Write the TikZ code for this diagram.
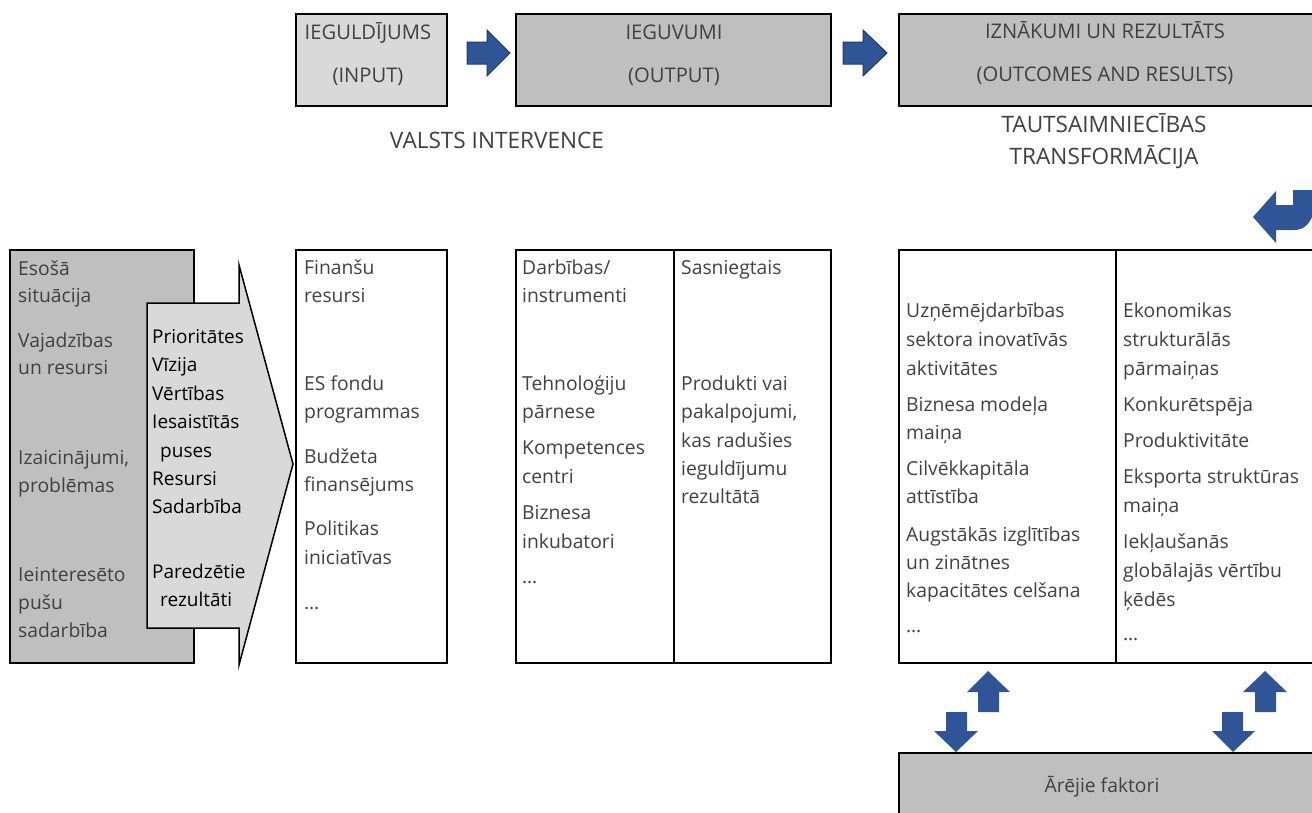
\documentclass[tikz,border=0pt]{standalone}
\usepackage{fontspec}
\setmainfont{Open Sans}
\definecolor{lgrey}{HTML}{D9D9D9}
\definecolor{mgrey}{HTML}{BFBFBF}
\definecolor{tgrey}{HTML}{404040}
\definecolor{ablue}{HTML}{2F5597}
\definecolor{dblue}{HTML}{203864}
\newcommand\fs{\fontsize{19.3}{29}\selectfont}
\newcommand\fsb{\fontsize{19}{29}\selectfont}
\newcommand\fst{\fontsize{20.2}{29}\selectfont}
\newcommand\fsh{\fontsize{22.6}{29}\selectfont}
\tikzset{
  box/.style={draw=black, line width=2pt, inner sep=0pt, outer sep=0pt},
  tl/.style={anchor=base west, inner sep=0pt, text=tgrey, font=\fs},
  tb/.style={anchor=base west, inner sep=0pt, text=black, font=\fsb},
  tc/.style={anchor=base, inner sep=0pt, text=tgrey, font=\fst},
  th/.style={anchor=base, inner sep=0pt, text=tgrey, font=\fsh},
  blockarrow/.style={fill=ablue, draw=dblue, line width=1pt},
}
\begin{document}
\begin{tikzpicture}[x=1pt,y=-1pt]
\useasboundingbox (0,0) rectangle (1312,812);
\begin{scope}
\clip (0,0) rectangle (1312,812);
% top boxes
\node[box, fill=lgrey, minimum width=151pt, minimum height=92pt] (inp) at (371.5,60) {};
\node[box, fill=mgrey, minimum width=315pt, minimum height=92pt] (outp) at (673.5,60) {};
\node[box, fill=mgrey, minimum width=421pt, minimum height=92pt] (outc) at (1109.5,60) {};
\node[tc] (inp1) at (368,39) {IEGULDĪJUMS};
\node[tc] (inp2) at (368,82) {(INPUT)};
\node[tc] (outp1) at (674,39) {IEGUVUMI};
\node[tc] (outp2) at (674,82) {(OUTPUT)};
\node[tc] (outc1) at (1105,38) {IZNĀKUMI UN REZULTĀTS};
\node[tc] (outc2) at (1105,81) {(OUTCOMES AND RESULTS)};
% top arrows
\draw[blockarrow] (467,42) -- (487,42) -- (487,30) -- (510,53) -- (487,76) -- (487,64) -- (467,64) -- cycle;
\draw[blockarrow] (843,42) -- (863,42) -- (863,30) -- (887,53) -- (863,76) -- (863,64) -- (843,64) -- cycle;
% headings
\node[th] (vi) at (497,148) {VALSTS INTERVENCE};
\node[th] (tt1) at (1104,132) {TAUTSAIMNIECĪBAS};
\node[th] (tt2) at (1104,164) {TRANSFORMĀCIJA};
% U-turn arrow
\fill[ablue] (1253,217) -- (1276,191) -- (1276,205) -- (1293,205) -- (1293,190) -- (1320,190) -- (1320,200)
  -- (1314,212) .. controls (1310,224) and (1304,230) .. (1294,230) -- (1276,230) -- (1276,243) -- cycle;
% left grey box
\node[box, fill=mgrey, minimum width=184pt, minimum height=413pt] (sit) at (102,456.5) {};
\draw[fill=lgrey, draw=black, line width=1.5pt] (147,303) -- (239,303) -- (239,265) -- (293,464) -- (239,665) -- (239,628) -- (147,628) -- cycle;
\node[tl] (s1) at (18,275) {Esošā};
\node[tl] (s2) at (18,302) {situācija};
\node[tl] (s3) at (18,347) {Vajadzības};
\node[tl] (s4) at (18,374) {un resursi};
\node[tl] (s5) at (18,464) {Izaicinājumi,};
\node[tl] (s6) at (18,492) {problēmas};
\node[tl] (s7) at (18,581) {Ieinteresēto};
\node[tl] (s8) at (18,609) {pušu};
\node[tl] (s9) at (18,637) {sadarbība};
\node[tb] (p1) at (152,343) {Prioritātes};
\node[tb] (p2) at (152,371) {Vīzija};
\node[tb] (p3) at (152,400) {Vērtības};
\node[tb] (p4) at (152,428) {Iesaistītās};
\node[tb] (p5) at (160,457) {puses};
\node[tb] (p6) at (152,485) {Resursi};
\node[tb] (p7) at (152,513) {Sadarbība};
\node[tb] (p8) at (152,578) {Paredzētie};
\node[tb] (p9) at (160,606) {rezultāti};
% Finansu box
\node[box, minimum width=151pt, minimum height=413pt] (fin) at (371.5,456.5) {};
\node[tl] (f1) at (304,274) {Finanšu};
\node[tl] (f2) at (304,302) {resursi};
\node[tl] (f3) at (304,390) {ES fondu};
\node[tl] (f4) at (304,418) {programmas};
\node[tl] (f5) at (304,463) {Budžeta};
\node[tl] (f6) at (304,491) {finansējums};
\node[tl] (f7) at (304,535) {Politikas};
\node[tl] (f8) at (304,564) {iniciatīvas};
\node[tl] (f9) at (304,609) {…};
% Darbibas box
\node[box, minimum width=315pt, minimum height=413pt] (darb) at (673.5,456.5) {};
\draw[line width=2pt] (674,250) -- (674,663);
\node[tl] (d1) at (522,274) {Darbības/};
\node[tl] (d2) at (522,302) {instrumenti};
\node[tl] (d3) at (522,390) {Tehnoloģiju};
\node[tl] (d4) at (522,418) {pārnese};
\node[tl] (d5) at (522,454) {Kompetences};
\node[tl] (d6) at (522,483) {centri};
\node[tl] (d7) at (522,519) {Biznesa};
\node[tl] (d8) at (522,548) {inkubatori};
\node[tl] (d9) at (522,583) {…};
\node[tl] (e1) at (681,274) {Sasniegtais};
\node[tl] (e2) at (681,390) {Produkti vai};
\node[tl] (e3) at (681,418) {pakalpojumi,};
\node[tl] (e4) at (681,447) {kas radušies};
\node[tl] (e5) at (681,475) {ieguldījumu};
\node[tl] (e6) at (681,503) {rezultātā};
% right box
\node[box, minimum width=421pt, minimum height=413pt] (res) at (1109.5,456.5) {};
\draw[line width=2pt] (1116,250) -- (1116,663);
\node[tl] (r1) at (906,317) {Uzņēmējdarbības};
\node[tl] (r2) at (906,346) {sektora inovatīvās};
\node[tl] (r3) at (906,375) {aktivitātes};
\node[tl] (r4) at (906,411) {Biznesa modeļa};
\node[tl] (r5) at (906,439) {maiņa};
\node[tl] (r6) at (906,475) {Cilvēkkapitāla};
\node[tl] (r7) at (906,503) {attīstība};
\node[tl] (r8) at (906,541) {Augstākās izglītības};
\node[tl] (r9) at (906,569) {un zinātnes};
\node[tl] (r10) at (906,597) {kapacitātes celšana};
\node[tl] (r11) at (906,632) {…};
\node[tl] (q1) at (1123,317) {Ekonomikas};
\node[tl] (q2) at (1123,346) {strukturālās};
\node[tl] (q3) at (1123,375) {pārmaiņas};
\node[tl] (q4) at (1123,411) {Konkurētspēja};
\node[tl] (q5) at (1123,447) {Produktivitāte};
\node[tl] (q6) at (1123,483) {Eksporta struktūras};
\node[tl] (q7) at (1123,512) {maiņa};
\node[tl] (q8) at (1123,548) {Iekļaušanās};
\node[tl] (q9) at (1123,577) {globālajās vērtību};
\node[tl] (q10) at (1123,606) {ķēdēs};
\node[tl] (q11) at (1123,640) {…};
% bottom arrows
\fill[ablue] (988,671) -- (1010,692) -- (999,692) -- (999,712) -- (978,712) -- (978,692) -- (967,692) -- cycle;
\fill[ablue] (946,712) -- (967,712) -- (967,731) -- (978,731) -- (956,752) -- (934,731) -- (946,731) -- cycle;
\fill[ablue] (1265,671) -- (1287,692) -- (1276,692) -- (1276,712) -- (1255,712) -- (1255,692) -- (1243,692) -- cycle;
\fill[ablue] (1222,712) -- (1243,712) -- (1243,731) -- (1255,731) -- (1233,752) -- (1212,731) -- (1222,731) -- cycle;
% external factors
\node[box, fill=mgrey, minimum width=421pt, minimum height=80pt] (ext) at (1109.5,793) {};
\node[tl, anchor=base] (ext1) at (1102,792) {Ārējie faktori};
\end{scope}
\end{tikzpicture}
\end{document}
